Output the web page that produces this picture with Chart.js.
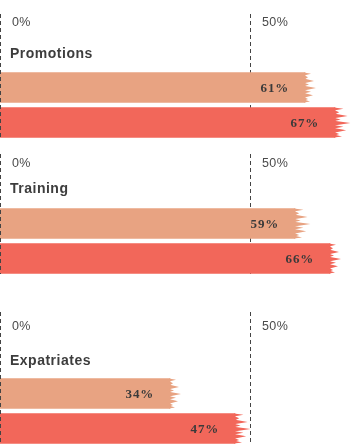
<!DOCTYPE html>
<html>
<head>
<meta charset="utf-8">
<script src="https://cdn.jsdelivr.net/npm/chart.js@4.4.1/dist/chart.umd.min.js"></script>
<style>
  html, body { margin: 0; padding: 0; background: #fff; overflow: hidden; }
  body { width: 357px; height: 444px; position: relative; }
  .grp { position: absolute; left: 0; }
  canvas { display: block; }
</style>
</head>
<body>
<div class="grp" id="g0" style="top:0px"><canvas id="c0" width="357" height="140"></canvas></div>
<div class="grp" id="g1" style="top:140px"><canvas id="c1" width="357" height="136"></canvas></div>
<div class="grp" id="g2" style="top:300px"><canvas id="c2" width="357" height="146"></canvas></div>
<script>
// ---- data ----
const groups = ['Promotions', 'Training', 'Expatriates'];
const barNames = ['Series 1', 'Series 2'];
const seriesA = [61, 59, 34];
const seriesB = [67, 66, 47];
const tickValues = [0, 50];
const tickLabels = ['0%', '50%'];

// ---- layout / style (per group) ----
const layouts = [
  { padTop: 70, dashTop: 14, tickBase: 26, titleBase: 58 },
  { padTop: 66, dashTop: 14, tickBase: 27, titleBase: 53 },
  { padTop: 76, dashTop: 12, tickBase: 30, titleBase: 65 }
];
const colors = ['#E8A382', '#F2675A'];
// brush-stroke fringe at bar ends: [start frac, tip frac, end frac, length px]
const fringe = [
  [0.00, 0.04, 0.10, 6], [0.08, 0.16, 0.24, 3], [0.20, 0.28, 0.36, 9],
  [0.34, 0.40, 0.46, 4], [0.44, 0.52, 0.60, 11], [0.58, 0.64, 0.70, 6],
  [0.68, 0.76, 0.84, 8], [0.82, 0.88, 0.94, 3], [0.90, 0.97, 1.00, 5]
];

function makePlugin(gi) {
  const L = layouts[gi];
  function dashLine(ctx, x, y0, y1) {
    ctx.save();
    ctx.strokeStyle = '#444';
    ctx.lineWidth = 1;
    ctx.setLineDash([4, 3]);
    ctx.beginPath();
    ctx.moveTo(Math.round(x) + 0.5, y0);
    ctx.lineTo(Math.round(x) + 0.5, y1);
    ctx.stroke();
    ctx.restore();
  }
  return {
    id: 'deco' + gi,
    beforeDatasetsDraw(chart) {
      const ctx = chart.ctx, xs = chart.scales.x;
      const bottom = chart.chartArea.bottom - 2;
      for (let t = 1; t < tickValues.length; t++) {
        dashLine(ctx, xs.getPixelForValue(tickValues[t]), L.dashTop, bottom);
      }
    },
    afterDatasetsDraw(chart) {
      const ctx = chart.ctx, xs = chart.scales.x;
      const bottom = chart.chartArea.bottom - 2;
      const meta = chart.getDatasetMeta(0);
      // ragged brush ends
      ctx.save();
      meta.data.forEach((el, i) => {
        const h = el.height, top = el.y - h / 2, xe = el.x;
        ctx.fillStyle = colors[i];
        fringe.forEach((f, k) => {
          const len = f[3] * (1 + ((i + gi) % 2) * 0.4);
          ctx.beginPath();
          ctx.moveTo(xe - 1, top + f[0] * h);
          ctx.lineTo(xe + len, top + f[1] * h);
          ctx.lineTo(xe - 1, top + f[2] * h);
          ctx.closePath();
          ctx.fill();
        });
      });
      ctx.restore();
      dashLine(ctx, xs.getPixelForValue(tickValues[0]), L.dashTop, bottom);
      // tick labels
      ctx.save();
      ctx.fillStyle = '#4a4a4a';
      ctx.font = '12.5px "Liberation Sans", Arial, sans-serif';
      ctx.textBaseline = 'alphabetic';
      ctx.textAlign = 'left';
      try { ctx.letterSpacing = '0.4px'; } catch (e) {}
      tickValues.forEach((v, i) => {
        ctx.fillText(tickLabels[i], xs.getPixelForValue(v) + 12, L.tickBase);
      });
      // group title
      ctx.fillStyle = '#3d3d3d';
      ctx.font = 'bold 14px "Liberation Sans", Arial, sans-serif';
      try { ctx.letterSpacing = '0.5px'; } catch (e) {}
      ctx.fillText(groups[gi], 10, L.titleBase);
      // value labels
      ctx.fillStyle = '#3a3a3a';
      ctx.font = 'bold 13px "Liberation Serif", "Times New Roman", serif';
      ctx.textAlign = 'right';
      try { ctx.letterSpacing = '0.8px'; } catch (e) {}
      meta.data.forEach((el, i) => {
        const v = chart.data.datasets[0].data[i];
        ctx.fillText(v + '%', el.x - 16, el.y + 4.5);
      });
      ctx.restore();
    }
  };
}

for (let gi = 0; gi < groups.length; gi++) {
  new Chart(document.getElementById('c' + gi), {
    type: 'bar',
    data: {
      labels: barNames,
      datasets: [{
        label: groups[gi],
        data: [seriesA[gi], seriesB[gi]],
        backgroundColor: colors,
        borderWidth: 0,
        barThickness: 30,
        categoryPercentage: 1,
        barPercentage: 1
      }]
    },
    options: {
      indexAxis: 'y',
      responsive: false,
      animation: false,
      layout: { padding: { top: layouts[gi].padTop, left: 0, right: 7, bottom: 0 } },
      scales: {
        x: { type: 'linear', min: 0, max: 70, display: false },
        y: { type: 'category', display: false, offset: true }
      },
      plugins: { legend: { display: false }, tooltip: { enabled: false }, title: { display: false } }
    },
    plugins: [makePlugin(gi)]
  });
}
</script>
</body>
</html>
